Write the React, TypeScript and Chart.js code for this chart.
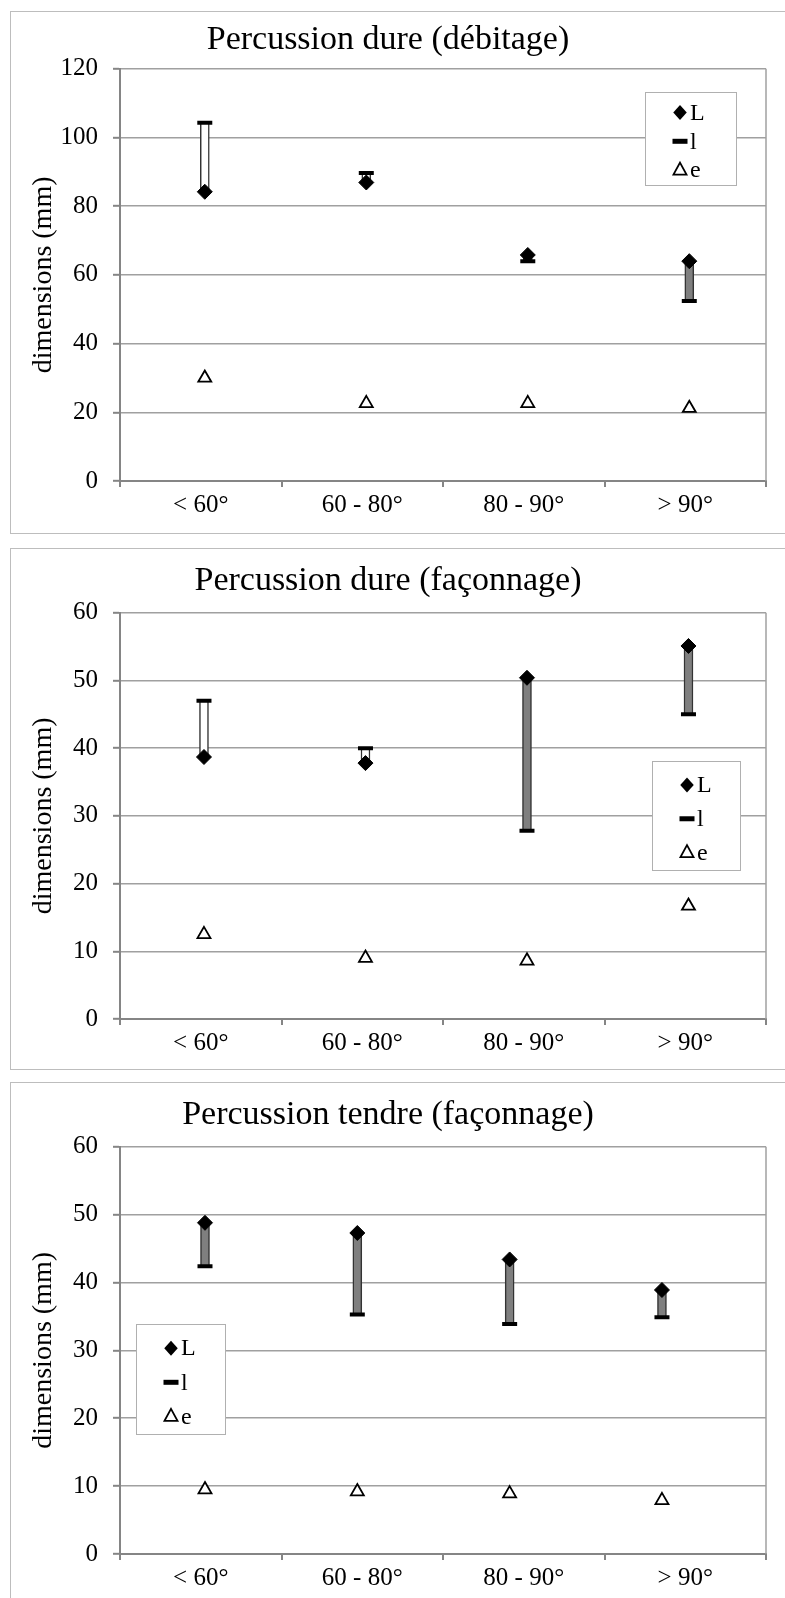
import React, { useEffect, useRef } from 'react';
import { Chart, registerables } from 'chart.js';

Chart.register(...registerables);

// ---------- data ----------
const categories = ['< 60°', '60 - 80°', '80 - 90°', '> 90°'];
const seriesNames = ['L', 'l', 'e'];

const debitageL = [84.2, 86.9, 65.8, 64.0];
const debitageLarg = [104.3, 89.7, 64.0, 52.4];
const debitageE = [30.0, 22.6, 22.6, 21.2];

const dureFaconnageL = [38.7, 37.8, 50.4, 55.1];
const dureFaconnageLarg = [47.0, 40.0, 27.8, 45.0];
const dureFaconnageE = [12.5, 9.0, 8.6, 16.7];

const tendreFaconnageL = [48.8, 47.3, 43.4, 38.9];
const tendreFaconnageLarg = [42.4, 35.3, 33.9, 34.9];
const tendreFaconnageE = [9.5, 9.2, 8.9, 7.9];

const yTicksDebitage = [0, 20, 40, 60, 80, 100, 120];
const yTicksFaconnage = [0, 10, 20, 30, 40, 50, 60];

const titles = [
  'Percussion dure (débitage)',
  'Percussion dure (façonnage)',
  'Percussion tendre (façonnage)',
];
const yTitle = 'dimensions (mm)';

// ---------- styles ----------
const FONT = "'Liberation Serif', 'Times New Roman', Times, serif";
const GRID = '#a0a0a0';
const AXIS = '#858585';

type PanelCfg = {
  title: string;
  L: number[];
  l: number[];
  e: number[];
  ticks: number[];
  boxTop: number;
  boxHeight: number;
  canvasTop: number;
  canvasHeight: number;
  titlePad: { top: number; bottom: number };
  xHeight: number;
  markRange: [number, number];
  legend: { left: number; top: number; width: number; height: number };
};

const panels: PanelCfg[] = [
  {
    title: titles[0], L: debitageL, l: debitageLarg, e: debitageE, ticks: yTicksDebitage,
    boxTop: 11, boxHeight: 523, canvasTop: 11, canvasHeight: 522,
    titlePad: { top: 9, bottom: 8 }, xHeight: 52, markRange: [-0.525, 3.475],
    legend: { left: 645, top: 81, width: 91, height: 93 },
  },
  {
    title: titles[1], L: dureFaconnageL, l: dureFaconnageLarg, e: dureFaconnageE, ticks: yTicksFaconnage,
    boxTop: 548, boxHeight: 522, canvasTop: 548, canvasHeight: 521,
    titlePad: { top: 13, bottom: 11 }, xHeight: 50, markRange: [-0.52, 3.48],
    legend: { left: 652, top: 213, width: 88, height: 109 },
  },
  {
    title: titles[2], L: tendreFaconnageL, l: tendreFaconnageLarg, e: tendreFaconnageE, ticks: yTicksFaconnage,
    boxTop: 1082, boxHeight: 600, canvasTop: 1082, canvasHeight: 516,
    titlePad: { top: 13, bottom: 11 }, xHeight: 44, markRange: [-0.558, 3.683],
    legend: { left: 136, top: 242, width: 89, height: 110 },
  },
];

function drawMarker(ctx: CanvasRenderingContext2D, style: string, x: number, y: number, r: number) {
  ctx.save();
  ctx.beginPath();
  if (style === 'rectRot') {
    ctx.moveTo(x, y - r);
    ctx.lineTo(x + r * 0.9, y);
    ctx.lineTo(x, y + r);
    ctx.lineTo(x - r * 0.9, y);
    ctx.closePath();
    ctx.fillStyle = '#000';
    ctx.fill();
  } else if (style === 'line') {
    ctx.fillStyle = '#000';
    ctx.fillRect(x - r, y - 2.5, 2 * r, 5);
  } else {
    ctx.moveTo(x, y - r);
    ctx.lineTo(x + r * 0.87, y + r * 0.6);
    ctx.lineTo(x - r * 0.87, y + r * 0.6);
    ctx.closePath();
    ctx.fillStyle = '#fff';
    ctx.fill();
    ctx.lineWidth = 1.8;
    ctx.strokeStyle = '#000';
    ctx.stroke();
  }
  ctx.restore();
}

const framePlugin = {
  id: 'plotFrame',
  beforeDatasetsDraw(chart: any) {
    const { ctx, chartArea } = chart;
    ctx.save();
    ctx.strokeStyle = GRID;
    ctx.lineWidth = 1.5;
    ctx.beginPath();
    ctx.moveTo(chartArea.right, chartArea.top);
    ctx.lineTo(chartArea.right, chartArea.bottom);
    ctx.stroke();
    ctx.restore();
  },
};

const boxLegendPlugin = {
  id: 'boxLegend',
  afterDatasetsDraw(chart: any, _args: any, opts: any) {
    const { ctx } = chart;
    const { left, top, width, height } = opts;
    ctx.save();
    ctx.fillStyle = '#fff';
    ctx.fillRect(left, top, width, height);
    ctx.strokeStyle = '#b0b0b0';
    ctx.lineWidth = 1;
    ctx.strokeRect(left + 0.5, top + 0.5, width, height);
    const items = chart.data.datasets.filter((d: any) => d.type === 'line');
    const rows = [0.22, 0.53, 0.84];
    items.forEach((d: any, i: number) => {
      const y = top + height * rows[i];
      drawMarker(ctx, d.pointStyle, left + 35, y, 7.5);
      ctx.fillStyle = '#000';
      ctx.font = `24px ${FONT}`;
      ctx.textBaseline = 'middle';
      ctx.textAlign = 'left';
      ctx.fillText(d.label, left + 45, y + 1);
    });
    ctx.restore();
  },
};

function Panel({ cfg }: { cfg: PanelCfg }) {
  const ref = useRef<HTMLCanvasElement | null>(null);

  useEffect(() => {
    if (!ref.current) return;
    const idx = categories.map((_, i) => i);
    const barData = idx.map((i) => ({ x: i, y: [cfg.L[i], cfg.l[i]] }));
    const barColors = idx.map((i) => (cfg.l[i] > cfg.L[i] ? '#ffffff' : '#7f7f7f'));
    const step = cfg.ticks[1] - cfg.ticks[0];

    const chart = new Chart(ref.current, {
      type: 'bar',
      data: {
        labels: categories,
        datasets: [
          {
            type: 'bar',
            label: 'L-l',
            data: barData as any,
            xAxisID: 'xm',
            yAxisID: 'y',
            backgroundColor: barColors,
            borderColor: '#333333',
            borderWidth: 1.5,
            borderSkipped: false,
            barThickness: 9,
            order: 4,
          },
          {
            type: 'line',
            label: seriesNames[0],
            data: idx.map((i) => ({ x: i, y: cfg.L[i] })),
            xAxisID: 'xm',
            yAxisID: 'y',
            showLine: false,
            pointStyle: 'rectRot',
            pointRadius: 7.5,
            pointBackgroundColor: '#000',
            pointBorderColor: '#000',
            pointBorderWidth: 1,
            order: 1,
          },
          {
            type: 'line',
            label: seriesNames[1],
            data: idx.map((i) => ({ x: i, y: cfg.l[i] })),
            xAxisID: 'xm',
            yAxisID: 'y',
            showLine: false,
            pointStyle: 'line',
            pointRadius: 7.5,
            pointBorderColor: '#000',
            pointBorderWidth: 4,
            order: 2,
          },
          {
            type: 'line',
            label: seriesNames[2],
            data: idx.map((i) => ({ x: i, y: cfg.e[i] })),
            xAxisID: 'xm',
            yAxisID: 'y',
            showLine: false,
            pointStyle: 'triangle',
            pointRadius: 7.5,
            pointBackgroundColor: '#fff',
            pointBorderColor: '#000',
            pointBorderWidth: 1.8,
            order: 3,
          },
        ] as any,
      },
      options: {
        responsive: false,
        animation: false,
        devicePixelRatio: 1,
        layout: { padding: { left: 10, right: 19, top: 0, bottom: 0 } },
        plugins: {
          legend: { display: false },
          tooltip: { enabled: false },
          title: {
            display: true,
            text: cfg.title,
            color: '#000',
            font: { family: FONT, size: 34, weight: 'normal' },
            padding: cfg.titlePad,
          },
          boxLegend: cfg.legend,
        } as any,
        scales: {
          x: {
            type: 'category',
            position: 'bottom',
            offset: true,
            grid: {
              offset: true,
              drawOnChartArea: false,
              drawTicks: true,
              tickLength: 6,
              color: AXIS,
              lineWidth: 2,
            },
            border: { display: true, color: AXIS, width: 2 },
            ticks: { color: '#000', font: { family: FONT, size: 25 }, padding: 3, maxRotation: 0 },
            afterFit: (s: any) => { s.height = cfg.xHeight; },
          },
          xm: {
            type: 'linear',
            display: false,
            offset: false,
            min: cfg.markRange[0],
            max: cfg.markRange[1],
            grid: { offset: false },
          },
          y: {
            type: 'linear',
            position: 'left',
            min: cfg.ticks[0],
            max: cfg.ticks[cfg.ticks.length - 1],
            ticks: {
              stepSize: step,
              color: '#000',
              font: { family: FONT, size: 25 },
              padding: 15,
            },
            grid: {
              color: GRID,
              lineWidth: 1.6,
              drawTicks: true,
              tickLength: 7,
              tickColor: AXIS,
              tickWidth: 2,
            },
            border: { display: true, color: AXIS, width: 2 },
            title: {
              display: true,
              text: yTitle,
              color: '#000',
              font: { family: FONT, size: 28, weight: 'normal' },
              padding: { top: 17, bottom: 0 },
            },
            afterFit: (s: any) => { s.width = 110; },
          },
        } as any,
      },
      plugins: [framePlugin, boxLegendPlugin],
    });
    return () => chart.destroy();
  }, [cfg]);

  return (
    <>
      <div
        style={{
          position: 'absolute',
          left: 10,
          top: cfg.boxTop,
          width: 800,
          height: cfg.boxHeight,
          border: '1px solid #bdbdbd',
          boxSizing: 'border-box',
        }}
      />
      <canvas
        ref={ref}
        width={785}
        height={cfg.canvasHeight}
        style={{ position: 'absolute', left: 0, top: cfg.canvasTop, width: 785, height: cfg.canvasHeight }}
      />
    </>
  );
}

export default function App() {
  return (
    <>
      <style>{'body{margin:0;overflow:hidden;background:#fff}'}</style>
      <div style={{ position: 'relative', width: 785, height: 1598, overflow: 'hidden', background: '#fff' }}>
        {panels.map((p, i) => (
          <Panel key={i} cfg={p} />
        ))}
      </div>
    </>
  );
}
